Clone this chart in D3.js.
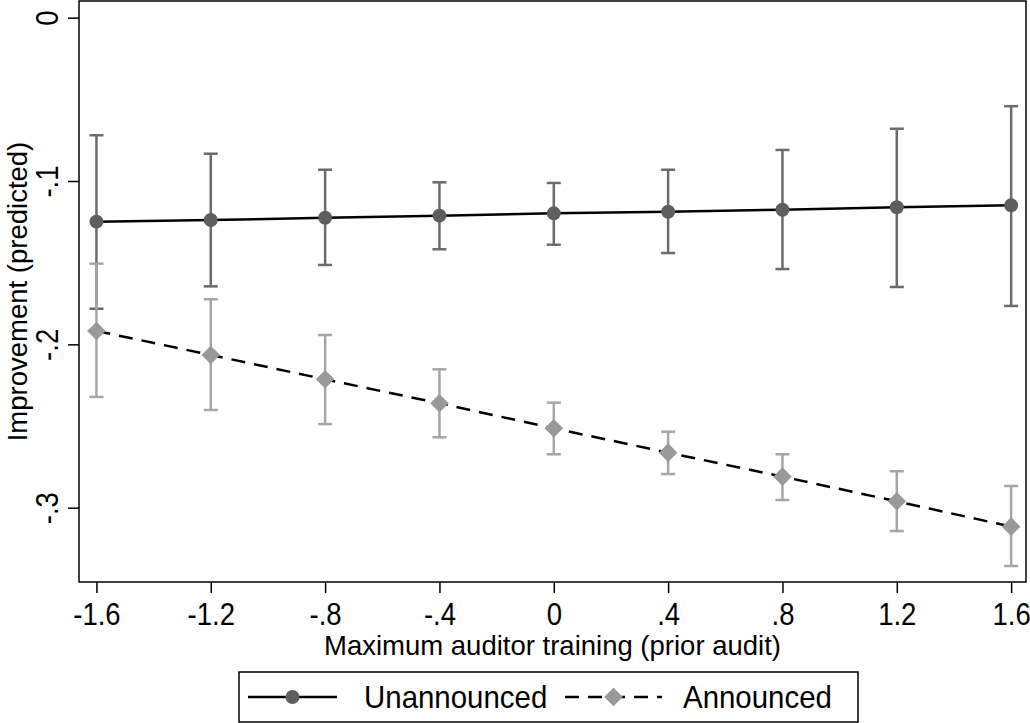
<!DOCTYPE html>
<html lang="en">
<head>
    <meta charset="UTF-8">
    <title>Improvement by auditor training</title>
    <style>
        body { margin: 0; background: #fff; }
        svg text {
            font-family: "Liberation Sans", Arial, sans-serif;
            fill: #000;
        }
        .tick text { font-size: 32px; }
        .axis-title { font-size: 27.5px; }
        .legend text { font-size: 31px; }
    </style>
    <script src="https://d3js.org/d3.v7.min.js"></script>
</head>
<body>
    <script>
        // x positions (maximum auditor training, standardised)
        const training = [-1.6, -1.2, -0.8, -0.4, 0, 0.4, 0.8, 1.2, 1.6];

        // unannounced audits: prediction and 95% CI
        const unannounced   = [-0.1249, -0.1239, -0.1225, -0.1212, -0.1198, -0.1188, -0.1176, -0.1161, -0.1149];
        const unannouncedLo = [-0.1782, -0.1645, -0.1514, -0.1418, -0.1390, -0.1441, -0.1539, -0.1649, -0.1765];
        const unannouncedHi = [-0.0720, -0.0833, -0.0931, -0.1008, -0.1012, -0.0931, -0.0810, -0.0680, -0.0542];

        // announced audits: prediction and 95% CI
        const announced   = [-0.1918, -0.2065, -0.2214, -0.2361, -0.2514, -0.2663, -0.2810, -0.2961, -0.3116];
        const announcedLo = [-0.2322, -0.2402, -0.2488, -0.2569, -0.2673, -0.2794, -0.2953, -0.3143, -0.3357];
        const announcedHi = [-0.1506, -0.1724, -0.1943, -0.2153, -0.2357, -0.2535, -0.2673, -0.2777, -0.2867];

        const xTicks = [-1.6, -1.2, -0.8, -0.4, 0, 0.4, 0.8, 1.2, 1.6];
        const xTickLabels = ["-1.6", "-1.2", "-.8", "-.4", "0", ".4", ".8", "1.2", "1.6"];
        const yTicks = [0, -0.1, -0.2, -0.3];
        const yTickLabels = ["0", "-.1", "-.2", "-.3"];

        const width = 1030, height = 723;
        const margin = { top: 1, right: 4, bottom: 141, left: 79 };
        const narrow = 0.86; // the original uses a condensed face

        const svg = d3.select("body").append("svg")
            .attr("width", width)
            .attr("height", height);

        const x = d3.scaleLinear()
            .domain([-1.661, 1.652])
            .range([margin.left, width - margin.right]);
        const y = d3.scaleLinear()
            .domain([0.0102, -0.3455])
            .range([margin.top, height - margin.bottom]);

        // plot frame
        svg.append("rect")
            .attr("x", margin.left).attr("y", margin.top)
            .attr("width", width - margin.left - margin.right)
            .attr("height", height - margin.top - margin.bottom)
            .attr("fill", "none").attr("stroke", "#000").attr("stroke-width", 1.5);

        // axes
        const xAxis = d3.axisBottom(x).tickValues(xTicks)
            .tickFormat((d, i) => xTickLabels[i]).tickSizeOuter(0).tickSizeInner(11).tickPadding(4);
        const gx = svg.append("g")
            .attr("transform", `translate(0,${height - margin.bottom})`)
            .call(xAxis);
        gx.select(".domain").remove();
        gx.selectAll(".tick line").attr("stroke", "#000").attr("stroke-width", 1.5);
        gx.selectAll(".tick text")
            .attr("font-size", null).attr("font-family", null).attr("dy", "0.88em")
            .attr("transform", `scale(${narrow},1)`);

        const yAxis = d3.axisLeft(y).tickValues(yTicks)
            .tickFormat((d, i) => yTickLabels[i]).tickSizeOuter(0).tickSizeInner(11);
        const gy = svg.append("g")
            .attr("transform", `translate(${margin.left},0)`)
            .call(yAxis);
        gy.select(".domain").remove();
        gy.selectAll(".tick line").attr("stroke", "#000").attr("stroke-width", 1.5);
        gy.selectAll(".tick text")
            .attr("x", null).attr("dy", null).attr("font-size", null).attr("font-family", null)
            .attr("text-anchor", "middle")
            .attr("transform", `translate(-21,0) rotate(-90) scale(${narrow},1)`);

        // axis titles
        svg.append("text")
            .attr("class", "axis-title")
            .attr("x", (margin.left + width - margin.right) / 2)
            .attr("y", 655)
            .attr("text-anchor", "middle")
            .text("Maximum auditor training (prior audit)");
        svg.append("text")
            .attr("class", "axis-title")
            .attr("transform", `translate(27,${(margin.top + height - margin.bottom) / 2}) rotate(-90)`)
            .attr("text-anchor", "middle")
            .text("Improvement (predicted)");

        const series = [
            { name: "Unannounced", est: unannounced, lo: unannouncedLo, hi: unannouncedHi,
              bar: "#6b6b6b", marker: "#5e5e5e", dash: null, shape: "circle" },
            { name: "Announced", est: announced, lo: announcedLo, hi: announcedHi,
              bar: "#a6a6a6", marker: "#999999", dash: "14,9", shape: "diamond" }
        ];

        const capW = 7;
        const diamond = d3.symbol().type(d3.symbolDiamond2).size(220);

        // confidence intervals
        series.forEach(s => {
            const g = svg.append("g").attr("stroke", s.bar).attr("stroke-width", 2.5);
            training.forEach((t, i) => {
                g.append("line").attr("x1", x(t)).attr("x2", x(t))
                    .attr("y1", y(s.lo[i])).attr("y2", y(s.hi[i]));
                g.append("line").attr("x1", x(t) - capW).attr("x2", x(t) + capW)
                    .attr("y1", y(s.lo[i])).attr("y2", y(s.lo[i]));
                g.append("line").attr("x1", x(t) - capW).attr("x2", x(t) + capW)
                    .attr("y1", y(s.hi[i])).attr("y2", y(s.hi[i]));
            });
        });

        const line = d3.line().x((d, i) => x(training[i])).y(d => y(d));

        series.forEach(s => {
            svg.append("path")
                .attr("d", line(s.est))
                .attr("fill", "none")
                .attr("stroke", "#000")
                .attr("stroke-width", 2.5)
                .attr("stroke-dasharray", s.dash);
            const m = svg.append("g");
            s.est.forEach((v, i) => {
                if (s.shape === "circle") {
                    m.append("circle").attr("cx", x(training[i])).attr("cy", y(v))
                        .attr("r", 7).attr("fill", s.marker);
                } else {
                    m.append("path").attr("d", diamond)
                        .attr("transform", `translate(${x(training[i])},${y(v)})`)
                        .attr("fill", s.marker);
                }
            });
        });

        // legend
        const legend = svg.append("g").attr("class", "legend");
        legend.append("rect")
            .attr("x", 239).attr("y", 672).attr("width", 619).attr("height", 50)
            .attr("fill", "#fff").attr("stroke", "#000").attr("stroke-width", 1.5);
        const legendItems = [
            { s: series[0], x0: 248, x1: 337, tx: 364 },
            { s: series[1], x0: 565, x1: 662, tx: 683 }
        ];
        legendItems.forEach(it => {
            const ly = 697;
            legend.append("line")
                .attr("x1", it.x0).attr("x2", it.x1).attr("y1", ly).attr("y2", ly)
                .attr("stroke", "#000").attr("stroke-width", 2.5)
                .attr("stroke-dasharray", it.s.dash);
            const cx = (it.x0 + it.x1) / 2;
            if (it.s.shape === "circle") {
                legend.append("circle").attr("cx", cx).attr("cy", ly).attr("r", 7).attr("fill", it.s.marker);
            } else {
                legend.append("path").attr("d", diamond)
                    .attr("transform", `translate(${cx},${ly})`).attr("fill", it.s.marker);
            }
            legend.append("text")
                .attr("transform", `translate(${it.tx},${ly + 11}) scale(0.95,1)`)
                .text(it.s.name);
        });
    </script>
</body>
</html>
